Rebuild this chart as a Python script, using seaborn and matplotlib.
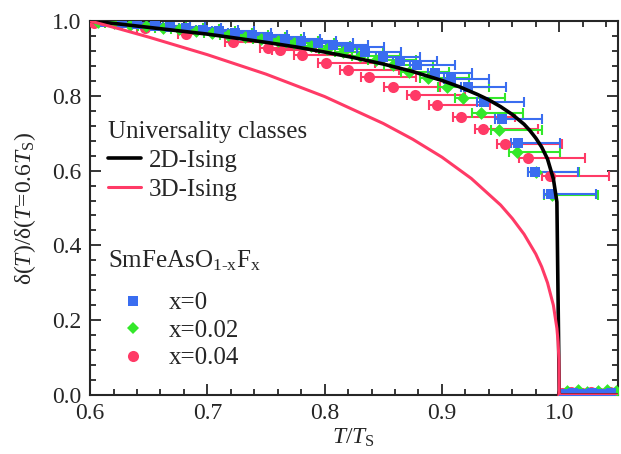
import numpy as np
import pandas as pd
import matplotlib
matplotlib.use("Agg")
import matplotlib.pyplot as plt
import seaborn as sns
from matplotlib.ticker import MultipleLocator
from matplotlib.lines import Line2D

# ---- theory curves ----
t_2d = [0.600, 0.625, 0.650, 0.675, 0.700, 0.725, 0.750, 0.775, 0.800, 0.825, 0.850,
        0.875, 0.900, 0.915, 0.930, 0.940, 0.950, 0.960, 0.970, 0.975, 0.980, 0.985,
        0.990, 0.995, 0.998, 1.000, 1.050]
v_2d = [1.000, 0.992, 0.983, 0.974, 0.965, 0.954, 0.943, 0.931, 0.917, 0.902, 0.885,
        0.865, 0.841, 0.824, 0.804, 0.789, 0.771, 0.750, 0.724, 0.707, 0.687, 0.663,
        0.631, 0.578, 0.516, 0.000, 0.000]

t_3d = [0.600, 0.625, 0.650, 0.700, 0.750, 0.800, 0.850, 0.875, 0.900, 0.925, 0.950,
        0.960, 0.970, 0.980, 0.985, 0.990, 0.995, 0.998, 0.999, 0.9997, 1.000, 1.050]
v_3d = [1.000, 0.979, 0.957, 0.910, 0.858, 0.798, 0.726, 0.684, 0.636, 0.579, 0.508,
        0.472, 0.430, 0.377, 0.343, 0.300, 0.240, 0.178, 0.142, 0.096, 0.000, 0.000]

# ---- data: SmFeAsO1-xFx ----
t_x0 = [0.613, 0.627, 0.640, 0.655, 0.668, 0.682, 0.696, 0.710, 0.724, 0.738, 0.752,
        0.766, 0.780, 0.794, 0.807, 0.821, 0.834, 0.850, 0.864, 0.879, 0.894, 0.908,
        0.922, 0.936, 0.951, 0.965, 0.979, 0.993,
        1.004, 1.012, 1.020, 1.028, 1.036, 1.044]
v_x0 = [0.998, 0.995, 0.992, 0.988, 0.985, 0.981, 0.977, 0.973, 0.968, 0.963, 0.958,
        0.953, 0.947, 0.941, 0.936, 0.930, 0.918, 0.905, 0.894, 0.882, 0.862, 0.844,
        0.824, 0.784, 0.738, 0.673, 0.597, 0.537,
        0.003, 0.004, 0.003, 0.005, 0.003, 0.004]
xerr_lo_x0 = [0.006] * 28 + [0.0] * 6
xerr_hi_x0 = [0.030, 0.030, 0.030, 0.030, 0.030, 0.030, 0.030, 0.030, 0.030, 0.030, 0.030,
              0.030, 0.030, 0.030, 0.030, 0.030, 0.031, 0.031, 0.032, 0.032, 0.032, 0.032,
              0.033, 0.034, 0.034, 0.036, 0.037, 0.038,
              0.0, 0.0, 0.0, 0.0, 0.0, 0.0]

t_x2 = [0.607, 0.620, 0.634, 0.648, 0.662, 0.676, 0.690, 0.704, 0.718, 0.732, 0.746,
        0.760, 0.774, 0.788, 0.802, 0.816, 0.830, 0.844, 0.858, 0.872, 0.888, 0.904,
        0.918, 0.933, 0.949, 0.964, 0.980, 0.994,
        1.007, 1.016, 1.024, 1.033, 1.041, 1.048]
v_x2 = [0.997, 0.994, 0.990, 0.986, 0.982, 0.978, 0.973, 0.968, 0.963, 0.958, 0.952,
        0.946, 0.940, 0.933, 0.925, 0.916, 0.906, 0.895, 0.882, 0.864, 0.847, 0.824,
        0.793, 0.755, 0.709, 0.651, 0.597, 0.535,
        0.010, 0.012, 0.009, 0.011, 0.012, 0.010]
xerr_lo_x2 = [0.007] * 28 + [0.0] * 6
xerr_hi_x2 = [0.034] * 20 + [0.035, 0.036, 0.036, 0.036, 0.036, 0.037, 0.037, 0.039] + [0.0] * 6

t_x4 = [0.603, 0.647, 0.682, 0.722, 0.752, 0.762, 0.781, 0.801, 0.820, 0.838, 0.858,
        0.877, 0.896, 0.916, 0.935, 0.954, 0.973, 0.992,
        1.002, 1.010, 1.019, 1.027, 1.035, 1.043]
v_x4 = [0.994, 0.980, 0.965, 0.945, 0.927, 0.922, 0.909, 0.888, 0.870, 0.851, 0.824,
        0.802, 0.775, 0.743, 0.710, 0.671, 0.633, 0.586,
        0.006, 0.007, 0.006, 0.008, 0.006, 0.007]
xerr_lo_x4 = [0.007] * 18 + [0.0] * 6
xerr_hi_x4 = [0.038, 0.038, 0.039, 0.040, 0.041, 0.041, 0.042, 0.042, 0.043, 0.040, 0.040,
              0.043, 0.045, 0.046, 0.047, 0.048, 0.049, 0.050] + [0.0] * 6

labels_theory = ["2D-Ising", "3D-Ising"]
labels_data = ["x=0", "x=0.02", "x=0.04"]

# ---- style ----
sns.set_style("ticks")
plt.rcParams["font.family"] = ["Liberation Serif", "DejaVu Serif"]
plt.rcParams["mathtext.fontset"] = "custom"
plt.rcParams["mathtext.rm"] = "Liberation Serif"
plt.rcParams["mathtext.it"] = "Liberation Serif:italic"

C_BLUE = "#3a6df0"
C_GREEN = "#33e82a"
C_RED = "#ff3a66"

fig = plt.figure(figsize=(6.21, 4.54), dpi=100)
ax = fig.add_axes([0.145, 0.130, 0.850, 0.8237])

series = [
    (t_x0, v_x0, xerr_lo_x0, xerr_hi_x0, C_BLUE, "s", 6.5, labels_data[0]),
    (t_x2, v_x2, xerr_lo_x2, xerr_hi_x2, C_GREEN, "D", 6.5, labels_data[1]),
    (t_x4, v_x4, xerr_lo_x4, xerr_hi_x4, C_RED, "o", 8.0, labels_data[2]),
]
for t, v, lo, hi, c, m, ms, lab in reversed(series):
    t = np.array(t); v = np.array(v)
    err = np.vstack([lo, hi])
    mask = err.sum(axis=0) > 0
    ax.errorbar(t[mask], v[mask], xerr=err[:, mask], fmt="none", ecolor=c,
                elinewidth=1.5, capsize=3.5, capthick=1.5, zorder=2)
    df = pd.DataFrame({"t": t, "v": v})
    sns.scatterplot(data=df, x="t", y="v", ax=ax, color=c, marker=m,
                    s=ms ** 2, linewidth=0, zorder=3, legend=False)

df2 = pd.DataFrame({"t": t_2d, "v": v_2d})
df3 = pd.DataFrame({"t": t_3d, "v": v_3d})
sns.lineplot(data=df2, x="t", y="v", ax=ax, color="black", lw=2.6, sort=False,
             zorder=4, legend=False)
sns.lineplot(data=df3, x="t", y="v", ax=ax, color=C_RED, lw=2.2, sort=False,
             zorder=4, legend=False)

ax.set_xlim(0.6, 1.05)
ax.set_ylim(0.0, 1.0)
ax.xaxis.set_major_locator(MultipleLocator(0.1))
ax.xaxis.set_minor_locator(MultipleLocator(0.02))
ax.yaxis.set_major_locator(MultipleLocator(0.2))
ax.yaxis.set_minor_locator(MultipleLocator(0.04))
ax.set_xticks([0.6, 0.7, 0.8, 0.9, 1.0])
ax.set_xticklabels(["0.6", "0.7", "0.8", "0.9", "1.0"])
ax.set_yticks([0.0, 0.2, 0.4, 0.6, 0.8, 1.0])
ax.set_yticklabels(["0.0", "0.2", "0.4", "0.6", "0.8", "1.0"])
ax.tick_params(which="both", direction="in", top=True, right=True, width=1.3,
               labelsize=17, pad=6)
ax.tick_params(which="major", length=8)
ax.tick_params(which="minor", length=4.5)
for s in ax.spines.values():
    s.set_linewidth(1.5)

ax.set_xlabel(r"$\mathit{T}$/$\mathit{T}_{\mathregular{S}}$", fontsize=17, labelpad=2)
ax.set_ylabel(r"δ($\mathit{T}$)/δ($\mathit{T}$=0.6$\mathit{T}_{\mathregular{S}}$)",
              fontsize=17, labelpad=10)

# legends
h_theory = [Line2D([], [], color="black", lw=2.6),
            Line2D([], [], color=C_RED, lw=2.2)]
leg1 = ax.legend(h_theory, labels_theory, title="Universality classes",
                 loc="upper left", bbox_to_anchor=(0.0, 0.78), frameon=False,
                 fontsize=18, title_fontsize=18, handlelength=1.35,
                 handletextpad=0.3, labelspacing=0.26, borderaxespad=0.3)
leg1._legend_box.align = "left"
ax.add_artist(leg1)

h_data = [Line2D([], [], color=C_BLUE, marker="s", ls="", ms=6.5, mew=0),
          Line2D([], [], color=C_GREEN, marker="D", ls="", ms=6.5, mew=0),
          Line2D([], [], color=C_RED, marker="o", ls="", ms=8, mew=0)]
leg2 = ax.legend(h_data, labels_data,
                 title=r"SmFeAsO$_{\mathregular{1\text{-}x}}$F$_{\mathregular{x}}$",
                 loc="upper left", bbox_to_anchor=(0.0, 0.44), frameon=False,
                 fontsize=18, title_fontsize=18, handlelength=2.0,
                 handletextpad=0.45, labelspacing=0.2, borderaxespad=0.3)
leg2._legend_box.align = "left"
leg2._legend_box.sep = 14

fig.savefig("out.png", dpi=100)
